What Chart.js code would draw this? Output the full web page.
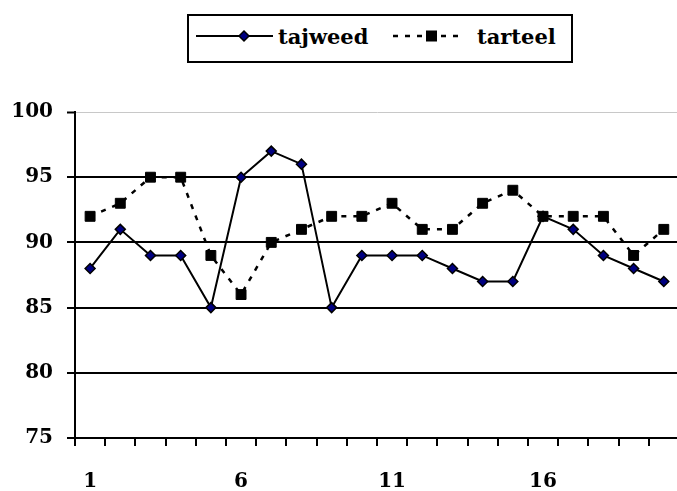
<!DOCTYPE html>
<html>
<head>
<meta charset="utf-8">
<script src="https://cdn.jsdelivr.net/npm/chart.js@4"></script>
<style>
  html, body { margin: 0; padding: 0; background: #fff; overflow: hidden; }
  #wrap { position: relative; width: 688px; height: 491px; }
  #legend {
    position: absolute; left: 187px; top: 14px; width: 386px; height: 49px;
    box-sizing: border-box; border: 2px solid #000; background: #fff;
    font-family: "DejaVu Serif", serif; font-weight: bold; font-size: 21px;
  }
  #legend svg { position: absolute; top: 0; }
  #legend span { position: absolute; top: 0; height: 45px; line-height: 42px; white-space: nowrap; }
</style>
</head>
<body>
<div id="wrap">
  <canvas id="grafico" width="688" height="491"></canvas>
  <div id="legend"></div>
</div>
<script>
// dados
const categorias = ["1", "2", "3", "4", "5", "6", "7", "8", "9", "10",
  "11", "12", "13", "14", "15", "16", "17", "18", "19", "20"];
const tajweed = [88, 91, 89, 89, 85, 95, 97, 96, 85, 89, 89, 89, 88, 87, 87, 92, 91, 89, 88, 87];
const tarteel = [92, 93, 95, 95, 89, 86, 90, 91, 92, 92, 93, 91, 91, 93, 94, 92, 92, 92, 89, 91];
const xTicksVisiveis = ["1", "6", "11", "16"];
const yTicks = [75, 80, 85, 90, 95, 100];

const fonte = { family: "'DejaVu Serif', serif", size: 20, weight: "bold" };

const ctx = document.getElementById("grafico").getContext("2d");

new Chart(ctx, {
  type: "line",
  data: {
    labels: categorias,
    datasets: [
      {
        label: "tajweed",
        data: tajweed,
        borderColor: "#000",
        borderWidth: 2,
        pointStyle: "rectRot",
        pointRadius: 5,
        pointBackgroundColor: "#000080",
        pointBorderColor: "#000",
        pointBorderWidth: 1.5,
        tension: 0,
        order: 1,
      },
      {
        label: "tarteel",
        data: tarteel,
        borderColor: "#000",
        borderWidth: 2.5,
        borderDash: [5, 7],
        pointStyle: "rect",
        pointRadius: 7,
        pointBackgroundColor: "#000",
        pointBorderColor: "#000",
        pointBorderWidth: 1,
        tension: 0,
        order: 0,
      },
    ],
  },
  options: {
    responsive: false,
    animation: false,
    devicePixelRatio: 1,
    layout: { padding: { top: 112, right: 2, left: 0, bottom: 0 } },
    plugins: { legend: { display: false }, tooltip: { enabled: false } },
    scales: {
      x: {
        offset: true,
        grid: {
          offset: true,
          drawOnChartArea: false,
          color: "#000",
          lineWidth: 2,
          tickLength: 8,
        },
        border: { color: "#000", width: 2 },
        ticks: {
          autoSkip: false,
          maxRotation: 0,
          color: "#000",
          font: fonte,
          padding: 24,
          callback: function (val, i) {
            const lab = categorias[i];
            return xTicksVisiveis.includes(lab) ? lab : "";
          },
        },
        afterFit: (scale) => { scale.height = 53; },
      },
      y: {
        min: yTicks[0],
        max: yTicks[yTicks.length - 1],
        afterBuildTicks: (scale) => {
          scale.ticks = yTicks.map((v) => ({ value: v }));
        },
        grid: {
          color: (c) => (c.tick && c.tick.value === 100 ? "#c8c8c8" : "#000"),
          lineWidth: (c) => (c.tick && c.tick.value === 100 ? 1 : 2),
          tickColor: "#000",
          tickWidth: 2,
          tickLength: 8,
        },
        border: { color: "#000", width: 2 },
        ticks: { color: "#000", font: fonte, padding: 14 },
        afterFit: (scale) => { scale.width = 75; },
      },
    },
  },
});

// legenda com caixa
const legend = document.getElementById("legend");
legend.innerHTML =
  '<svg style="left:7px" width="80" height="45">' +
  '<line x1="0" y1="20" x2="77" y2="20" stroke="#000" stroke-width="2"/>' +
  '<polygon points="48,15 53,20 48,25 43,20" fill="#000080" stroke="#000" stroke-width="1.5"/></svg>' +
  '<span style="left:89px">tajweed</span>' +
  '<svg style="left:204px" width="72" height="45">' +
  '<line x1="0" y1="20" x2="70" y2="20" stroke="#000" stroke-width="2.5" stroke-dasharray="5 7"/>' +
  '<rect x="33" y="14.5" width="11" height="11" fill="#000"/></svg>' +
  '<span style="left:288px">tarteel</span>';
</script>
</body>
</html>
